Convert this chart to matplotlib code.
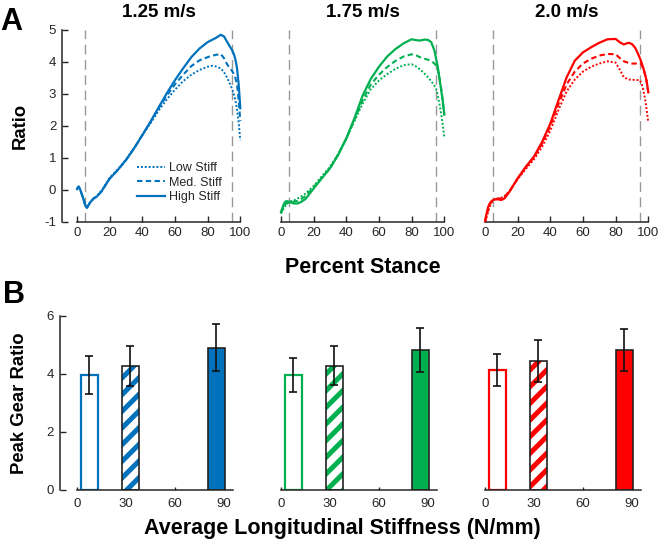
import matplotlib.pyplot as plt
import matplotlib.transforms as mtransforms

plt.rcParams['font.family'] = ['Liberation Sans', 'DejaVu Sans']
plt.rcParams['axes.unicode_minus'] = False
plt.rcParams['hatch.linewidth'] = 3.6

speeds = ['1.25 m/s', '1.75 m/s', '2.0 m/s']
colors = ['#0072BD', '#00B050', '#FF0000']
conditions = ['Low Stiff', 'Med. Stiff', 'High Stiff']

# percent stance samples
stance = [0, 1, 2, 3, 4, 5, 6, 8, 10, 12, 15, 20, 25, 30, 35, 40, 45, 50, 55, 60,
          65, 70, 75, 80, 83, 85, 88, 90, 92, 94, 95, 96, 97, 98, 99, 100]

blue_low = [0.02, 0.1, 0.0, -0.15, -0.3, -0.48, -0.57, -0.4, -0.28, -0.2, -0.03, 0.37, 0.64,
            0.95, 1.31, 1.71, 2.08, 2.48, 2.83, 3.13, 3.4, 3.6, 3.75, 3.85, 3.88, 3.86, 3.8,
            3.68, 3.5, 3.28, 3.15, 3.0, 2.8, 2.5, 2.1, 1.55]
blue_med = [0.02, 0.1, 0.0, -0.15, -0.3, -0.48, -0.57, -0.4, -0.28, -0.22, -0.05, 0.35, 0.62,
            0.93, 1.3, 1.71, 2.12, 2.55, 2.95, 3.3, 3.6, 3.87, 4.05, 4.15, 4.2, 4.22, 4.25,
            4.12, 3.92, 3.78, 3.72, 3.62, 3.5, 3.3, 2.8, 2.15]
blue_high = [0.02, 0.1, 0.0, -0.15, -0.3, -0.48, -0.57, -0.4, -0.28, -0.22, -0.05, 0.35, 0.62,
             0.93, 1.3, 1.71, 2.13, 2.58, 3.02, 3.43, 3.8, 4.15, 4.42, 4.62, 4.7, 4.75, 4.85,
             4.8, 4.62, 4.45, 4.37, 4.25, 4.08, 3.8, 3.3, 2.55]

green_low = [-0.75, -0.65, -0.55, -0.48, -0.43, -0.39, -0.36, -0.33, -0.28, -0.22, -0.12, 0.12,
             0.42, 0.72, 1.12, 1.6, 2.15, 2.7, 3.15, 3.42, 3.62, 3.78, 3.9, 3.93, 3.85, 3.77,
             3.63, 3.52, 3.4, 3.25, 3.15, 2.95, 2.7, 2.4, 2.05, 1.65]
green_med = [-0.72, -0.6, -0.5, -0.44, -0.4, -0.38, -0.38, -0.37, -0.35, -0.3, -0.2, 0.08,
             0.38, 0.68, 1.1, 1.6, 2.2, 2.8, 3.3, 3.6, 3.84, 4.03, 4.17, 4.24, 4.2, 4.15,
             4.1, 4.07, 4.03, 3.95, 3.88, 3.75, 3.5, 3.2, 2.8, 2.35]
green_high = [-0.7, -0.55, -0.42, -0.36, -0.36, -0.38, -0.4, -0.43, -0.43, -0.39, -0.29, 0.04,
              0.36, 0.67, 1.09, 1.61, 2.24, 2.95, 3.47, 3.85, 4.17, 4.4, 4.58, 4.71, 4.68, 4.67,
              4.7, 4.69, 4.62, 4.35, 4.1, 3.85, 3.5, 3.15, 2.8, 2.35]

red_low = [-1.0, -0.85, -0.68, -0.52, -0.4, -0.33, -0.3, -0.27, -0.25, -0.2, -0.04, 0.33,
           0.65, 0.95, 1.35, 1.85, 2.5, 3.08, 3.45, 3.7, 3.85, 3.95, 4.02, 3.98, 3.72, 3.52,
           3.45, 3.44, 3.44, 3.43, 3.42, 3.3, 3.1, 2.85, 2.5, 2.1]
red_med = [-1.0, -0.8, -0.6, -0.45, -0.37, -0.32, -0.3, -0.28, -0.27, -0.22, -0.05, 0.35,
           0.7, 1.02, 1.45, 2.0, 2.68, 3.3, 3.7, 3.95, 4.1, 4.2, 4.25, 4.24, 4.1, 4.02,
           3.97, 3.95, 3.95, 3.96, 3.97, 3.9, 3.78, 3.6, 3.38, 3.05]
red_high = [-1.0, -0.74, -0.53, -0.42, -0.36, -0.32, -0.3, -0.3, -0.32, -0.27, -0.06, 0.36,
            0.72, 1.04, 1.5, 2.07, 2.8, 3.52, 4.04, 4.3, 4.46, 4.6, 4.71, 4.72, 4.6, 4.55,
            4.6, 4.56, 4.44, 4.22, 4.1, 3.96, 3.8, 3.62, 3.4, 3.05]

curves = [[blue_low, blue_med, blue_high],
          [green_low, green_med, green_high],
          [red_low, red_med, red_high]]

# peak gear ratio vs. average longitudinal stiffness
stiffness = [7.5, 32.7, 85.4]
peak_mean = [[3.96, 4.28, 4.90],
             [3.97, 4.28, 4.82],
             [4.13, 4.45, 4.83]]
peak_sd = [[0.65, 0.69, 0.80],
           [0.59, 0.67, 0.75],
           [0.54, 0.72, 0.72]]

W, H = 658, 540
scale = 1.633           # px per data unit on x
zeros = [77, 281, 485]
axc = '#262626'

fig = plt.figure(figsize=(W / 100, H / 100), dpi=100)


def px_axes(x0, x1, ytop, ybot):
    return fig.add_axes([x0 / W, 1 - ybot / H, (x1 - x0) / W, (ybot - ytop) / H])


line_styles = [dict(ls=(0, (1, 1)), lw=1.4),
               dict(ls=(0, (2.6, 1.6)), lw=1.5),
               dict(ls='-', lw=1.6)]

for i in range(3):
    # top row: gear ratio over stance
    xmin, xmax = -9.3, 101
    ax = px_axes(zeros[i] + xmin * scale, zeros[i] + xmax * scale, 30, 221.7)
    ax.set_xlim(xmin, xmax)
    ax.set_ylim(-1, 5)
    for x in (5, 95):
        ax.axvline(x, color='#999999', lw=1.0, ls=(0, (7, 4)), zorder=1)
    for j in range(3):
        ax.plot(stance, curves[i][j], color=colors[i], label=conditions[j],
                zorder=3, **line_styles[j])
    ax.set_xticks([0, 20, 40, 60, 80, 100])
    ax.spines[['top', 'right']].set_visible(False)
    ax.spines['bottom'].set_bounds(0, 100)
    ax.spines['left'].set_bounds(-1, 5)
    if i == 0:
        ax.set_yticks([-1, 0, 1, 2, 3, 4, 5])
        leg = ax.legend(loc='upper left', bbox_to_anchor=(0.42, 0.31), frameon=False,
                        borderpad=0, borderaxespad=0, handlelength=2.2,
                        handletextpad=0.3, labelspacing=0.2, fontsize=9)
        for t in leg.get_texts():
            t.set_color(axc)
    else:
        ax.spines['left'].set_visible(False)
        ax.set_yticks([])
    trans = mtransforms.blended_transform_factory(ax.transData, fig.transFigure)
    ax.text(50, 1 - 17 / H, speeds[i], transform=trans, ha='center', va='baseline',
            fontsize=13.5, fontweight='bold')

    # bottom row: peak gear ratio bars
    xmin, xmax = -10.6, 97
    bx = px_axes(zeros[i] + xmin * scale, zeros[i] + xmax * scale, 315.7, 490)
    bx.set_xlim(xmin, xmax)
    bx.set_ylim(0, 6)
    c = colors[i]
    v = peak_mean[i]
    bw = 10.3
    bx.bar(stiffness[0], v[0], bw, facecolor='white', edgecolor=c, lw=1.6, zorder=2)
    bx.bar(stiffness[1], v[1], bw, facecolor='white', edgecolor=c, hatch='//', lw=0, zorder=2)
    bx.bar(stiffness[1], v[1], bw, fill=False, edgecolor='#222222', lw=1.2, zorder=3)
    bx.bar(stiffness[2], v[2], bw, facecolor=c, edgecolor='#222222', lw=1.2, zorder=2)
    bx.errorbar(stiffness, v, yerr=peak_sd[i], fmt='none', ecolor='#111111',
                elinewidth=1.2, capsize=3, capthick=1.2, zorder=4)
    bx.set_xticks([0, 30, 60, 90])
    bx.spines[['top', 'right']].set_visible(False)
    bx.spines['bottom'].set_bounds(0, 95.5)
    bx.spines['left'].set_bounds(0, 6)
    if i == 0:
        bx.set_yticks([0, 2, 4, 6])
    else:
        bx.spines['left'].set_visible(False)
        bx.set_yticks([])

    for a, xl, xp in ((ax, 4, 4), (bx, 2.5, 6)):
        for s in a.spines.values():
            s.set_color(axc)
            s.set_linewidth(1.1)
        a.tick_params(axis='x', direction='in', length=xl, width=1.0, colors=axc,
                      labelsize=9.5, pad=xp)
        a.tick_params(axis='y', direction='in', length=4, width=1.0, colors=axc,
                      labelsize=9.5, pad=4)

fig.text(0 / W, 1 - 30 / H, 'A', fontsize=22, fontweight='bold', va='baseline')
fig.text(3 / W, 1 - 303 / H, 'B', fontsize=22, fontweight='bold', va='baseline')
fig.text(20 / W, 1 - 126 / H, 'Ratio', rotation=90, ha='center', va='center',
         fontsize=13.3, fontweight='bold')
fig.text(20 / W, 1 - 403 / H, 'Peak Gear Ratio', rotation=90, ha='center', va='center',
         fontsize=13.3, fontweight='bold')
fig.text(363 / W, 1 - 273 / H, 'Percent Stance', ha='center', va='baseline',
         fontsize=15.5, fontweight='bold')
fig.text(342.5 / W, 1 - 534 / H, 'Average Longitudinal Stiffness (N/mm)', ha='center',
         va='baseline', fontsize=15.5, fontweight='bold')

fig.savefig('out.png', dpi=100)
